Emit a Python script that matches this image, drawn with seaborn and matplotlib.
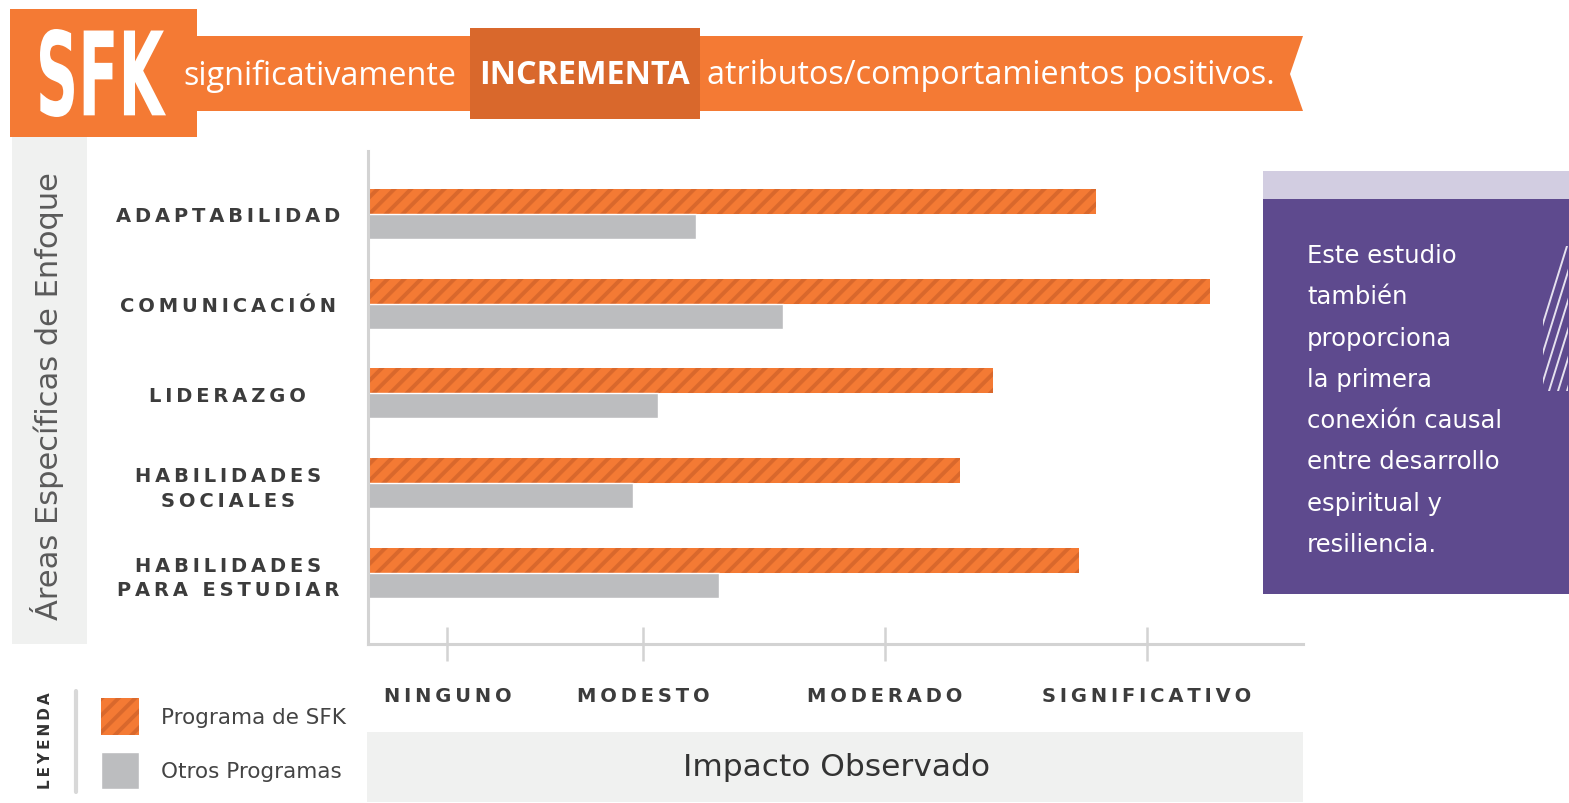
import pandas as pd
import matplotlib
matplotlib.use('Agg')
import matplotlib.pyplot as plt
import seaborn as sns
from matplotlib.patches import Rectangle, Polygon, PathPatch
from matplotlib.lines import Line2D
from matplotlib.textpath import TextPath
from matplotlib.font_manager import FontProperties
from matplotlib.transforms import Affine2D

# datos (escala 0-100 a lo largo del eje)
areas = ['ADAPTABILIDAD', 'COMUNICACIÓN', 'LIDERAZGO',
         'HABILIDADES\nSOCIALES', 'HABILIDADES\nPARA ESTUDIAR']
sfk = [77.9, 90.1, 66.8, 63.3, 76.0]
otros = [35.1, 44.4, 31.0, 28.3, 37.5]
programas = ['Programa de SFK', 'Otros Programas']
niveles = ['NINGUNO', 'MODESTO', 'MODERADO', 'SIGNIFICATIVO']
niveles_pos = [8.5, 29.4, 55.3, 83.3]

naranja = '#F47A34'
naranja_osc = '#D9682C'
gris = '#BCBDBF'
gris_claro = '#F0F1F0'
morado = '#5E4A8E'
morado_claro = '#D2CDE1'
texto = '#3C3C3C'

W, H = 1569, 804


def spaced(s):
    # simula el espaciado entre letras
    return '\n'.join('\u2009'.join(line) for line in s.split('\n'))


def fx(x):
    return x / W


def fy(y):
    return 1 - y / H


def caja(x0, y0, x1, y1, color, **kw):
    fig.add_artist(Rectangle((fx(x0), fy(y1)), fx(x1) - fx(x0), fy(y0) - fy(y1),
                             transform=fig.transFigure, facecolor=color,
                             edgecolor='none', **kw))


df = pd.DataFrame({
    'area': areas * 2,
    'impacto': sfk + otros,
    'programa': [programas[0]] * 5 + [programas[1]] * 5,
})

sns.set_style('white')
plt.rcParams['font.family'] = ['DejaVu Sans']
plt.rcParams['hatch.linewidth'] = 2.8

fig = plt.figure(figsize=(W / 100, H / 100), dpi=100)
ax = fig.add_axes([fx(368), fy(645), (1303 - 368) / W, (645 - 152) / H])

sns.barplot(data=df, y='area', x='impacto', hue='programa', orient='h',
            palette=[naranja, gris], saturation=1, width=0.556, gap=0,
            legend=False, ax=ax)

for p in ax.containers[0]:
    p.set_hatch('//')
    p.set_edgecolor(naranja_osc)
    p.set_linewidth(0)

ax.set_xlim(0, 100)
ax.set_ylim(4.79, -0.7)
ax.set_xlabel('')
ax.set_ylabel('')

ax.set_yticks(range(len(areas)))
ax.set_yticklabels([spaced(a) for a in areas], fontsize=14, fontweight='bold',
                   color=texto, linespacing=1.35)
for lbl in ax.get_yticklabels():
    lbl.set_ha('center')
    lbl.set_multialignment('center')
ax.tick_params(axis='y', left=False, length=0, pad=101)

ax.set_xticks(niveles_pos)
ax.set_xticklabels([spaced(n) for n in niveles], fontsize=14, fontweight='bold',
                   color=texto)
ax.tick_params(axis='x', bottom=True, direction='inout', length=24, width=1.8,
               color='#D3D3D3', pad=18)

for side in ['top', 'right']:
    ax.spines[side].set_visible(False)
for side in ['left', 'bottom']:
    ax.spines[side].set_color('#D3D3D3')
    ax.spines[side].set_linewidth(2.2)

# encabezado
caja(12, 138, 87, 645, gris_claro)
fig.add_artist(Polygon([(fx(197), fy(37)), (fx(1303), fy(37)), (fx(1290), fy(75)),
                        (fx(1303), fy(112)), (fx(197), fy(112))],
                       closed=True, transform=fig.transFigure, facecolor=naranja,
                       edgecolor='none'))
caja(10, 10, 197, 138, naranja)
caja(470, 29, 700, 120, naranja_osc)

# logo SFK comprimido horizontalmente
tp = TextPath((0, 0), 'SFK', size=100, prop=FontProperties(family='DejaVu Sans', weight='bold'))
bb = tp.get_extents()
logo = Affine2D().translate(-bb.x0, -bb.y0).scale(126 / bb.width / W, 88 / bb.height / H) \
    .translate(fx(40), fy(118))
fig.add_artist(PathPatch(logo.transform_path(tp), transform=fig.transFigure,
                         facecolor='white', edgecolor='none'))

fig.text(fx(183), fy(76), 'significativamente', color='white', fontsize=23.3,
         family=['Open Sans', 'DejaVu Sans'], ha='left', va='center')
fig.text(fx(585), fy(76), 'INCREMENTA', color='white', fontsize=23.3, fontweight='bold',
         family=['Open Sans', 'DejaVu Sans'], ha='center', va='center')
fig.text(fx(707), fy(76), 'atributos/comportamientos positivos.', color='white',
         fontsize=23.3, family=['Open Sans', 'DejaVu Sans'], ha='left', va='center')

# titulo eje y
fig.text(fx(47), fy(396), 'Áreas Específicas de Enfoque', rotation=90, fontsize=22,
         color='#5A5A5A', ha='center', va='center')

# titulo eje x
caja(367, 733, 1303, 803, gris_claro)
fig.text(fx(836), fy(768), 'Impacto Observado', fontsize=22.5, color='#333333',
         ha='center', va='center')

# recuadro morado
caja(1263, 172, 1569, 200, morado_claro)
caja(1263, 200, 1569, 595, morado)
nota = ['Este estudio', 'también', 'proporciona', 'la primera', 'conexión causal',
        'entre desarrollo', 'espiritual y', 'resiliencia.']
for i, linea in enumerate(nota):
    fig.text(fx(1307), fy(256 + i * 41.3), linea, fontsize=17.5, color='white',
             ha='left', va='center')
clip = Rectangle((fx(1543), fy(392)), fx(25), (392 - 247) / H, transform=fig.transFigure,
                 facecolor='none', edgecolor='none')
fig.add_artist(clip)
for k in range(-2, 12):
    x0 = 1540 + k * 9
    ln = Line2D([fx(x0), fx(x0 + 45)], [fy(392), fy(247)], transform=fig.transFigure,
                color='#E6E2EF', linewidth=1.4)
    ln.set_clip_path(clip)
    fig.add_artist(ln)

# leyenda
fig.text(fx(46), fy(741), spaced('LEYENDA'), rotation=90, fontsize=11,
         fontweight='bold', color='#333333', ha='center', va='center')
fig.add_artist(Line2D([fx(76), fx(76)], [fy(692), fy(793)], transform=fig.transFigure,
                      color='#D8D8D8', linewidth=3, solid_capstyle='round'))
fig.legend(handles=[ax.containers[0][0], ax.containers[1][0]], labels=programas,
           loc='upper left', bbox_to_anchor=(fx(101), fy(699)), frameon=False,
           fontsize=15.5, handlelength=1.77, handleheight=2.26, labelspacing=0.78,
           handletextpad=1.0, borderpad=0, borderaxespad=0, labelcolor='#444444')

fig.savefig('out.png', dpi=100)
